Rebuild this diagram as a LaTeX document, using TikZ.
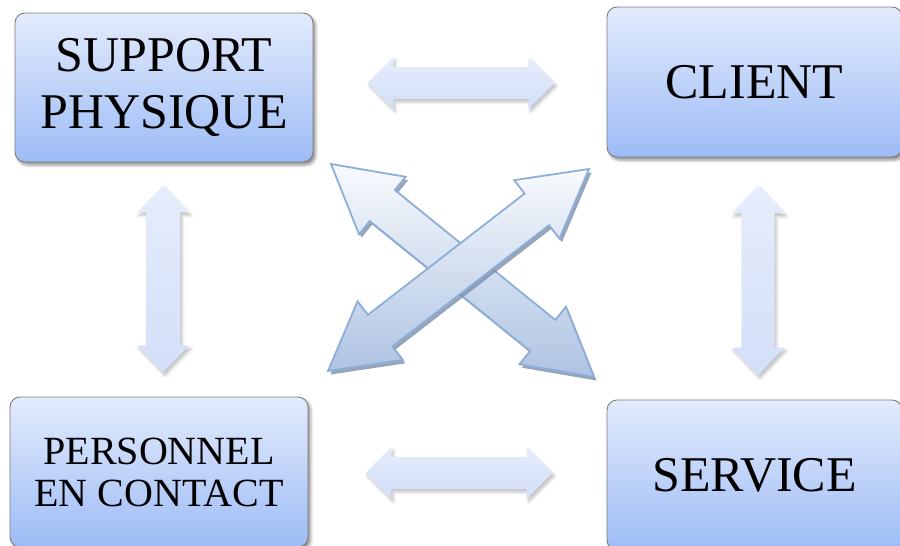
\documentclass[tikz,border=0pt]{standalone}
\usepackage{fontspec}
\setmainfont{Liberation Serif}
\usetikzlibrary{calc,shadows.blur}

\definecolor{boxtop}{HTML}{E3EBFC}
\definecolor{boxbot}{HTML}{9DBCF6}
\definecolor{boxline}{HTML}{7C7C7C}
\definecolor{linktop}{HTML}{E6EDFC}
\definecolor{linkbot}{HTML}{D2DFF8}
\definecolor{crosstop}{HTML}{F8FAFD}
\definecolor{crossbot}{HTML}{AEC3E2}
\definecolor{crossline}{HTML}{8CAED8}
\definecolor{crossshadow}{HTML}{7D8EA8}

% Double-headed block arrow between two tips:
% #1, #2 tips; #3 half shaft width; #4 half head width; #5 head length
\newcommand\dblarrowpath[5]{%
  (#1) -- ($(#1)!#5!(#2)!#4!90:(#2)$) -- ($(#1)!#5!(#2)!#3!90:(#2)$)
  -- ($(#2)!#5!(#1)!#3!-90:(#1)$) -- ($(#2)!#5!(#1)!#4!-90:(#1)$)
  -- (#2) -- ($(#2)!#5!(#1)!#4!90:(#1)$) -- ($(#2)!#5!(#1)!#3!90:(#1)$)
  -- ($(#1)!#5!(#2)!#3!-90:(#2)$) -- ($(#1)!#5!(#2)!#4!-90:(#2)$) -- cycle}

\tikzset{
  box/.style={rectangle, rounded corners=10pt, draw=boxline, line width=0.9pt,
    top color=boxtop, bottom color=boxbot, text=black, align=center,
    minimum width=298pt, minimum height=149pt, inner sep=0pt,
    blur shadow={shadow xshift=2.5pt, shadow yshift=-3pt, shadow blur radius=3pt, shadow opacity=45}},
  bigtext/.style={font=\fontsize{50}{57}\selectfont},
  smalltext/.style={font=\fontsize{40}{42}\selectfont},
  link/.style={top color=linktop, bottom color=linkbot,
    blur shadow={shadow xshift=2pt, shadow yshift=-3pt, shadow blur radius=3pt, shadow opacity=25}},
  crossarrow/.style={top color=crosstop, bottom color=crossbot, draw=crossline,
    line width=1.8pt, line join=miter},
  crossshade/.style={fill=crossshadow, fill opacity=0.8,
    transform canvas={shift={(2.5pt,-3.5pt)}}},
}

\begin{document}
\begin{tikzpicture}[x=1pt, y=-1pt]
  \useasboundingbox (0,0) rectangle (900,546);

  % the four boxes
  \node[box, bigtext]   (sp) at (164,87.5) {SUPPORT\\PHYSIQUE};
  \node[box, bigtext, minimum width=295pt, minimum height=150pt] (cl) at (754.5,82) {CLIENT};
  \node[box, smalltext, minimum height=150pt] (pc) at (159,472) {PERSONNEL\\EN CONTACT};
  \node[box, bigtext, minimum width=295pt, minimum height=150pt] (sv) at (754.5,475) {SERVICE};

  % tips of the side links
  \coordinate (t1) at ($(sp.east)+(54,-4.5)$);
  \coordinate (t2) at ($(cl.west)+(-52,1)$);
  \coordinate (b1) at ($(pc.east)+(57,1)$);
  \coordinate (b2) at ($(sv.west)+(-54,-2)$);
  \coordinate (l1) at ($(sp.south)+(-1,23)$);
  \coordinate (l2) at ($(pc.north)+(4,-24)$);
  \coordinate (r1) at ($(cl.south)+(3.5,28)$);
  \coordinate (r2) at ($(sv.north)+(3.5,-24)$);

  \path[link] \dblarrowpath{t1}{t2}{16pt}{26pt}{26pt};
  \path[link] \dblarrowpath{b1}{b2}{16pt}{26pt}{26pt};
  \path[link] \dblarrowpath{l1}{l2}{17pt}{26pt}{27pt};
  \path[link] \dblarrowpath{r1}{r2}{16.5pt}{26.5pt}{28pt};

  % the crossing arrows in the middle
  \coordinate (nw) at (331,164);
  \coordinate (se) at (594,377);
  \coordinate (sw) at (328,371);
  \coordinate (ne) at (589,169);

  \path[crossshade] \dblarrowpath{nw}{se}{20pt}{37pt}{66pt};
  \path[crossarrow] \dblarrowpath{nw}{se}{20pt}{37pt}{66pt};
  \path[crossshade] \dblarrowpath{sw}{ne}{20pt}{37pt}{66pt};
  \path[crossarrow] \dblarrowpath{sw}{ne}{20pt}{37pt}{66pt};
\end{tikzpicture}
\end{document}
